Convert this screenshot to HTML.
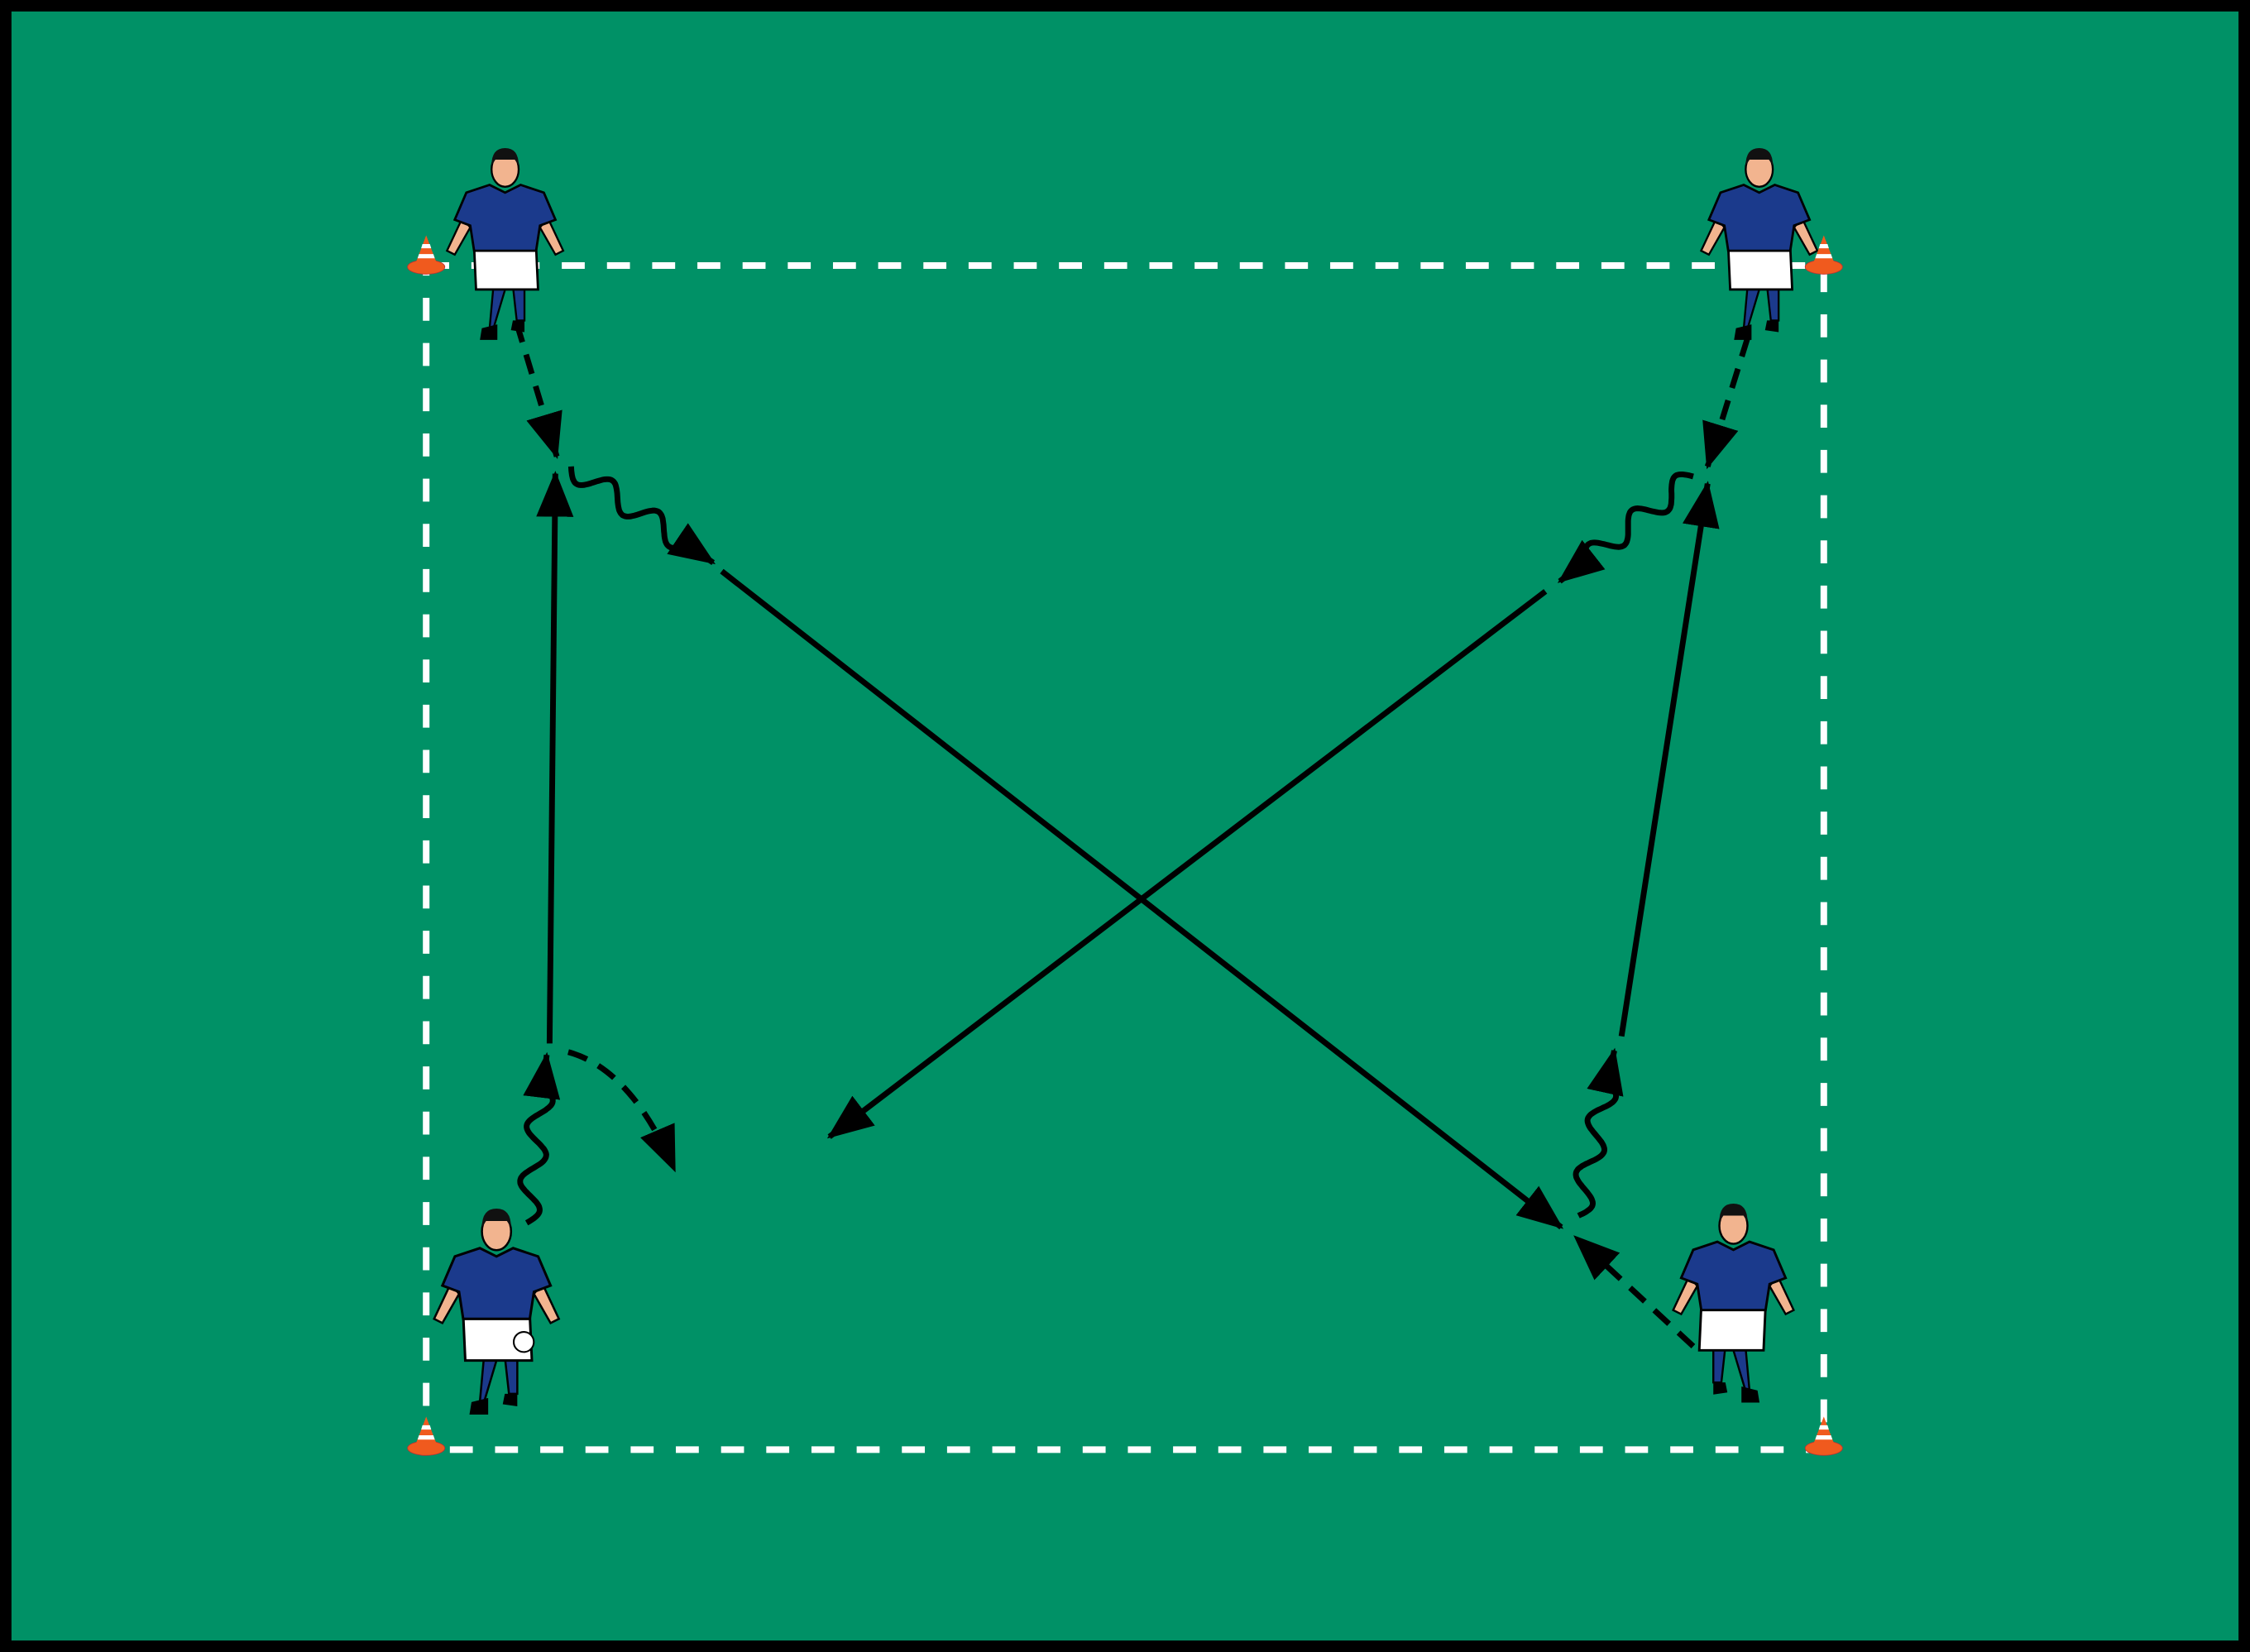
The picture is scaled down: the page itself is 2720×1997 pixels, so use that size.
<!DOCTYPE html>
<html><head><meta charset="utf-8"><style>
html,body{margin:0;padding:0;background:#000;}
svg{display:block;}
</style></head><body>
<svg id="s" width="2720" height="1997" viewBox="0 0 1568 1151" preserveAspectRatio="none" xmlns="http://www.w3.org/2000/svg">
<defs>
<marker id="ah" markerUnits="userSpaceOnUse" markerWidth="34" markerHeight="26" refX="30" refY="13" orient="auto">
<path d="M0,0 L32,13 L0,26 Z" fill="#000"/>
</marker>
<g id="cone">
<ellipse cx="0" cy="0" rx="13" ry="5" fill="#f05a1e" stroke="#b33" stroke-width="0.5"/>
<path d="M-8,-1 L0,-22 L8,-1 Z" fill="#f05a1e"/>
<path d="M-6,-6 L6,-6 L5,-9 L-5,-9 Z" fill="#fff"/>
<path d="M-3.5,-13 L3.5,-13 L2.6,-16 L-2.6,-16 Z" fill="#fff"/>
</g>
<g id="player">
<path d="M-6,40 L-8,62 L-6,62 L0,42 Z" fill="#1b3a8c" stroke="#000" stroke-width="1"/>
<path d="M4,40 L6,58 L10,58 L10,40 Z" fill="#1b3a8c" stroke="#000" stroke-width="1"/>
<path d="M-12,62 L-4,60 L-4,68 L-13,68 Z" fill="#000"/>
<path d="M4,58 L10,58 L10,64 L3,63 Z" fill="#000"/>
<path d="M-16,20 L16,20 L17,42 L-15,42 Z" fill="#fff" stroke="#000" stroke-width="1.2"/>
<path d="M-22,5 L-30,22 L-26,24 L-18,10 Z" fill="#f2b48f" stroke="#000" stroke-width="1"/>
<path d="M22,5 L30,22 L26,24 L18,10 Z" fill="#f2b48f" stroke="#000" stroke-width="1"/>
<path d="M-20,-8 L-8,-12 L0,-8 L8,-12 L20,-8 L26,6 L18,9 L16,22 L-16,22 L-18,9 L-26,6 Z" fill="#1b3a8c" stroke="#000" stroke-width="1.2"/>
<ellipse cx="0" cy="-20" rx="7" ry="9" fill="#f2b48f" stroke="#000" stroke-width="1"/>
<path d="M-7,-22 Q-7,-31 0,-31 Q7,-31 7,-22 L5,-25 L-5,-25 Z" fill="#111"/>
</g>
</defs>
<rect x="0" y="0" width="1568" height="1151" fill="#000"/>
<rect x="8" y="8" width="1552" height="1135" fill="#009166"/>
<rect x="297" y="185" width="974" height="825" fill="none" stroke="#fff" stroke-width="4.6" stroke-dasharray="16 15.5"/>

<use href="#player" transform="translate(352,145) scale(1.35)"/>
<use href="#player" transform="translate(1226,145) scale(1.35)"/>
<use href="#player" transform="translate(346,887) scale(1.45)"/>
<use href="#player" transform="translate(1208,882) scale(-1.4,1.4)"/>
<circle cx="365" cy="935" r="7" fill="#fff" stroke="#000" stroke-width="1.2"/>

<use href="#cone" x="297" y="186"/>
<use href="#cone" x="1271" y="186"/>
<use href="#cone" x="297" y="1009"/>
<use href="#cone" x="1271" y="1009"/>

<g fill="none" stroke="#000" stroke-width="4">
<line x1="360" y1="225" x2="388" y2="318" stroke-dasharray="14 9" marker-end="url(#ah)"/>
<line x1="503" y1="398" x2="1088" y2="855" marker-end="url(#ah)"/>
<line x1="383" y1="727" x2="387" y2="330" marker-end="url(#ah)"/>
<path d="M396,733 Q440,745 470,815" stroke-dasharray="14 9" marker-end="url(#ah)"/>
<line x1="1218" y1="235" x2="1190" y2="325" stroke-dasharray="14 9" marker-end="url(#ah)"/>
<line x1="1077" y1="412" x2="578" y2="792" marker-end="url(#ah)"/>
<line x1="1130" y1="722" x2="1190" y2="337" marker-end="url(#ah)"/>
<line x1="1180" y1="938" x2="1098" y2="862" stroke-dasharray="14 9" marker-end="url(#ah)"/>
</g>
<g id="waves" fill="none" stroke="#000" stroke-width="4"></g>
</svg>
<script>
function wave(x1,y1,x2,y2,n,a){
  var dx=x2-x1,dy=y2-y1,L=Math.hypot(dx,dy),ux=dx/L,uy=dy/L,px=-uy,py=ux;
  var d="",steps=100,wl=L-22;
  for(var i=0;i<=steps;i++){var t=i/steps*wl;var o=a*Math.sin(t/wl*n*2*Math.PI);
    var x=x1+ux*t+px*o,y=y1+uy*t+py*o;d+=(i?"L":"M")+x.toFixed(1)+","+y.toFixed(1);}
  d+="L"+x2+","+y2;
  var p=document.createElementNS("http://www.w3.org/2000/svg","path");
  p.setAttribute("d",d);p.setAttribute("marker-end","url(#ah)");
  document.getElementById("waves").appendChild(p);
}
wave(398,325,497,392,2.5,8);
wave(367,852,381,735,2.5,8);
wave(1180,332,1087,405,2.5,8);
wave(1100,847,1125,732,2.5,8);
</script>
</body></html>
